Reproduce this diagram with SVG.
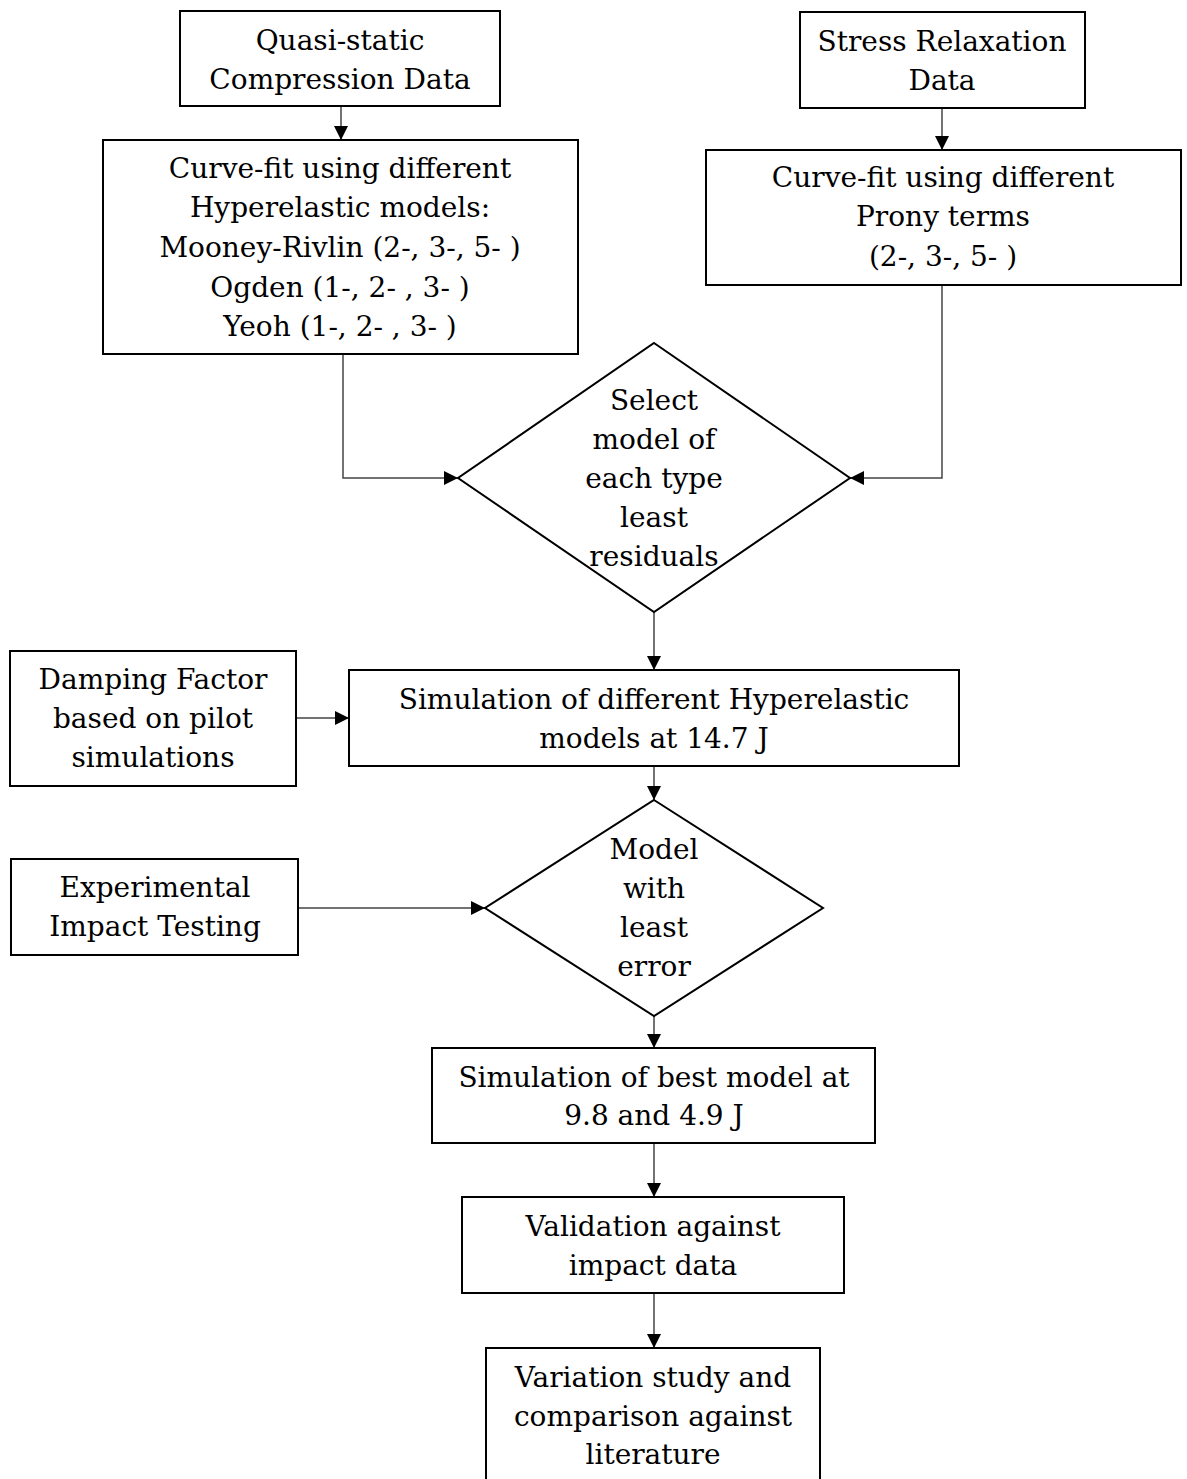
<svg xmlns="http://www.w3.org/2000/svg" width="1187" height="1479" viewBox="0 0 1187 1479">
  <style>
    .box { fill: #fff; stroke: #000; stroke-width: 2; }
    .wire { fill: none; stroke: #444; stroke-width: 1.5; }
    text { font-family: "DejaVu Serif", "Liberation Serif", serif; font-size: 28px; fill: #000; text-anchor: middle; }
  </style>
  <defs>
    <marker id="arrow" viewBox="0 0 10 10" refX="10" refY="5" markerWidth="14" markerHeight="14" markerUnits="userSpaceOnUse" orient="auto">
      <path d="M0,0 L10,5 L0,10 z" fill="#000"/>
    </marker>
  </defs>
  <rect width="1187" height="1479" fill="#fff"/>

  <g id="connectors">
    <line class="wire" x1="341" y1="106" x2="341" y2="140" marker-end="url(#arrow)"/>
    <line class="wire" x1="942" y1="108" x2="942" y2="150" marker-end="url(#arrow)"/>
    <polyline class="wire" points="343,354 343,478 458,478" marker-end="url(#arrow)"/>
    <polyline class="wire" points="942,285 942,478 850,478" marker-end="url(#arrow)"/>
    <line class="wire" x1="654" y1="612" x2="654" y2="670" marker-end="url(#arrow)"/>
    <line class="wire" x1="296" y1="718" x2="349" y2="718" marker-end="url(#arrow)"/>
    <line class="wire" x1="654" y1="766" x2="654" y2="800" marker-end="url(#arrow)"/>
    <line class="wire" x1="298" y1="908" x2="485" y2="908" marker-end="url(#arrow)"/>
    <line class="wire" x1="654" y1="1016" x2="654" y2="1048" marker-end="url(#arrow)"/>
    <line class="wire" x1="654" y1="1143" x2="654" y2="1197" marker-end="url(#arrow)"/>
    <line class="wire" x1="654" y1="1293" x2="654" y2="1348" marker-end="url(#arrow)"/>
  </g>

  <g id="quasi-static">
    <rect class="box" x="180" y="11" width="320" height="95"/>
    <text x="340" y="50">Quasi-static</text>
    <text x="340" y="89">Compression Data</text>
  </g>

  <g id="curve-fit-hyperelastic">
    <rect class="box" x="103" y="140" width="475" height="214"/>
    <text x="340" y="178">Curve-fit using different</text>
    <text x="340" y="217">Hyperelastic  models:</text>
    <text x="340" y="257">Mooney-Rivlin (2-, 3-, 5- )</text>
    <text x="340" y="297">Ogden (1-, 2- , 3- )</text>
    <text x="340" y="336">Yeoh (1-, 2- , 3- )</text>
  </g>

  <g id="stress-relaxation">
    <rect class="box" x="800" y="12" width="285" height="96"/>
    <text x="942" y="51">Stress Relaxation</text>
    <text x="942" y="90">Data</text>
  </g>

  <g id="curve-fit-prony">
    <rect class="box" x="706" y="150" width="475" height="135"/>
    <text x="943" y="187">Curve-fit using different</text>
    <text x="943" y="226">Prony terms</text>
    <text x="943" y="266">(2-, 3-, 5- )</text>
  </g>

  <g id="select-model">
    <polygon class="box" points="654,343 850,478 654,612 458,478"/>
    <text x="654" y="410">Select</text>
    <text x="654" y="449">model of</text>
    <text x="654" y="488">each type</text>
    <text x="654" y="527">least</text>
    <text x="654" y="566">residuals</text>
  </g>

  <g id="damping-factor">
    <rect class="box" x="10" y="651" width="286" height="135"/>
    <text x="153" y="689">Damping Factor</text>
    <text x="153" y="728">based on pilot</text>
    <text x="153" y="767">simulations</text>
  </g>

  <g id="simulation-hyperelastic">
    <rect class="box" x="349" y="670" width="610" height="96"/>
    <text x="654" y="709">Simulation of different Hyperelastic</text>
    <text x="654" y="748">models at 14.7 J</text>
  </g>

  <g id="least-error">
    <polygon class="box" points="654,800 823,908 654,1016 485,908"/>
    <text x="654" y="859">Model</text>
    <text x="654" y="898">with</text>
    <text x="654" y="937">least</text>
    <text x="654" y="976">error</text>
  </g>

  <g id="impact-testing">
    <rect class="box" x="11" y="859" width="287" height="96"/>
    <text x="155" y="897">Experimental</text>
    <text x="155" y="936">Impact Testing</text>
  </g>

  <g id="best-model">
    <rect class="box" x="432" y="1048" width="443" height="95"/>
    <text x="654" y="1087">Simulation of best model at</text>
    <text x="654" y="1125">9.8 and 4.9 J</text>
  </g>

  <g id="validation">
    <rect class="box" x="462" y="1197" width="382" height="96"/>
    <text x="653" y="1236">Validation against</text>
    <text x="653" y="1275">impact data</text>
  </g>

  <g id="variation-study">
    <rect class="box" x="486" y="1348" width="334" height="150"/>
    <text x="653" y="1387">Variation study and</text>
    <text x="653" y="1426">comparison against</text>
    <text x="653" y="1464">literature</text>
  </g>
</svg>
